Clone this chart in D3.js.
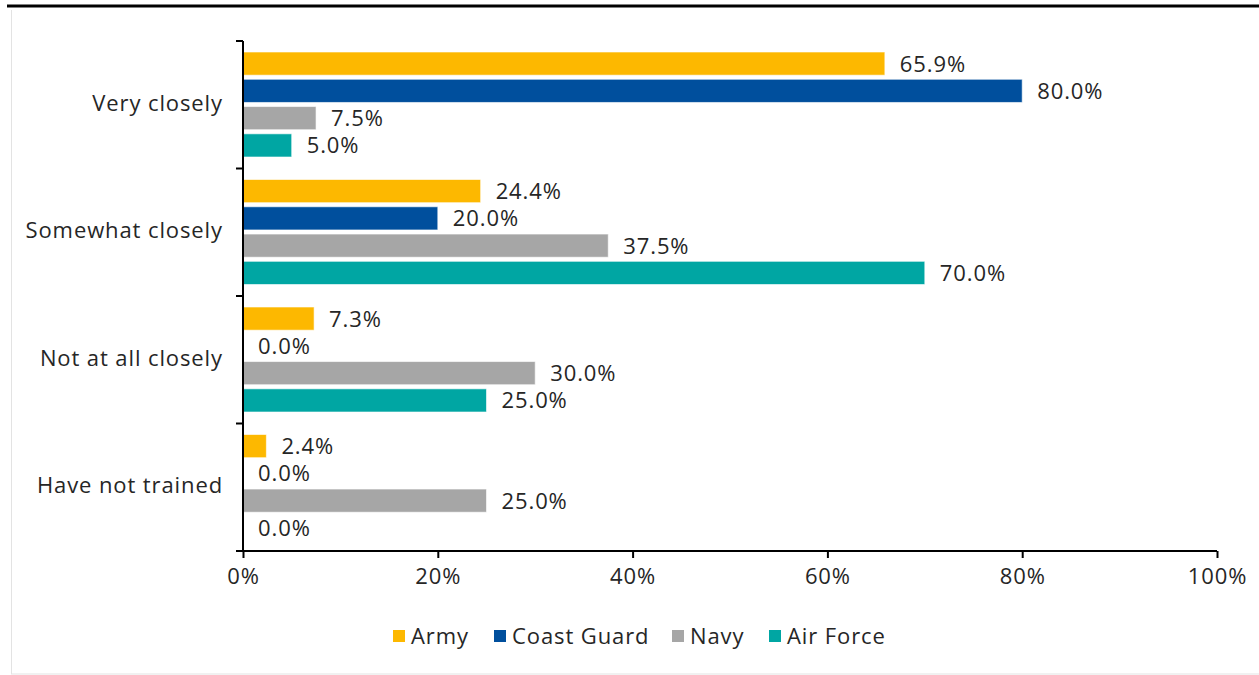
<!DOCTYPE html>
<html>
<head>
<meta charset="utf-8">
<script src="https://cdn.jsdelivr.net/npm/d3@7"></script>
<style>
  html, body { margin: 0; padding: 0; background: #fff; }
  svg { display: block; }
  text { font-family: "Open Sans", "Noto Sans", sans-serif; fill: #262626; letter-spacing: 0.9px; }
</style>
</head>
<body>
<svg id="chart" width="1259" height="675"></svg>
<script>
const categories = ["Very closely", "Somewhat closely", "Not at all closely", "Have not trained"];
const series = ["Army", "Coast Guard", "Navy", "Air Force"];
const army = [65.9, 24.4, 7.3, 2.4];
const coastGuard = [80.0, 20.0, 0.0, 0.0];
const navy = [7.5, 37.5, 30.0, 25.0];
const airForce = [5.0, 70.0, 25.0, 0.0];
const colors = ["#FDB800", "#004F9D", "#A6A6A6", "#00A6A3"];
const xTicks = [0, 20, 40, 60, 80, 100];

const values = [army, coastGuard, navy, airForce];
const FS = 22;

const svg = d3.select("#chart");

// frame
svg.append("line").attr("x1", 7).attr("x2", 1259).attr("y1", 6).attr("y2", 6)
  .attr("stroke", "#000").attr("stroke-width", 3);
svg.append("line").attr("x1", 11.5).attr("x2", 11.5).attr("y1", 10).attr("y2", 674)
  .attr("stroke", "#e3e3e3").attr("stroke-width", 1);
svg.append("line").attr("x1", 11).attr("x2", 1259).attr("y1", 674).attr("y2", 674)
  .attr("stroke", "#e3e3e3").attr("stroke-width", 1);

const x = d3.scaleLinear().domain([0, 100]).range([243, 1217]);
const y = d3.scaleBand().domain(categories).range([41, 551]);
const y1 = d3.scaleBand().domain(series).range([11, 116]).paddingInner(0.15);

const groups = svg.append("g").selectAll("g")
  .data(categories)
  .join("g")
  .attr("transform", d => `translate(0,${y(d)})`);

groups.each(function(cat, ci) {
  const g = d3.select(this);
  const data = series.map((s, si) => ({ s, si, v: values[si][ci] }));
  g.selectAll("rect").data(data).join("rect")
    .attr("x", x(0))
    .attr("y", d => y1(d.s))
    .attr("width", d => x(d.v) - x(0))
    .attr("height", y1.bandwidth())
    .attr("fill", d => colors[d.si])
    .attr("stroke", d => d.v > 0 ? "#fff" : "none")
    .attr("stroke-opacity", 0.6)
    .attr("stroke-width", 1);
  g.selectAll("text.val").data(data).join("text")
    .attr("class", "val")
    .attr("x", d => x(d.v) + 15)
    .attr("y", d => y1(d.s) + y1.bandwidth() / 2)
    .attr("dy", "0.36em")
    .attr("font-size", FS)
    .text(d => d.v.toFixed(1) + "%");
});

// y axis
svg.append("line").attr("x1", 243).attr("x2", 243).attr("y1", 41).attr("y2", 552)
  .attr("stroke", "#000").attr("stroke-width", 2);
svg.append("g").selectAll("line").data(categories.map(c => y(c)).concat([y.range()[1]]))
  .join("line")
  .attr("x1", 236).attr("x2", 243)
  .attr("y1", d => d).attr("y2", d => d)
  .attr("stroke", "#000").attr("stroke-width", 2);

svg.append("g").selectAll("text").data(categories).join("text")
  .attr("x", 223)
  .attr("y", d => y(d) + y.bandwidth() / 2 - 2)
  .attr("dy", "0.36em")
  .attr("text-anchor", "end")
  .attr("font-size", FS)
  .text(d => d);

// x axis
const xAxis = d3.axisBottom(x).tickValues(xTicks).tickFormat(d => d + "%").tickSize(7).tickPadding(10);
const xg = svg.append("g").attr("transform", "translate(0,551)").call(xAxis);
xg.select(".domain").attr("stroke", "#000").attr("stroke-width", 2)
  .attr("d", `M236,0H${x(100)}`);
xg.selectAll(".tick line").attr("stroke", "#000").attr("stroke-width", 2);
xg.selectAll(".tick text").attr("font-size", FS).attr("fill", "#262626")
  .attr("font-family", '"Open Sans", "Noto Sans", sans-serif');

// legend
const legendX = [393, 494, 672, 769];
const lg = svg.append("g").selectAll("g").data(series).join("g")
  .attr("transform", (d, i) => `translate(${legendX[i]},636)`);
lg.append("rect").attr("x", 0).attr("y", -6).attr("width", 12).attr("height", 12)
  .attr("fill", (d, i) => colors[i]);
lg.append("text").attr("x", 18).attr("dy", "0.36em").attr("font-size", FS).text(d => d);
</script>
</body>
</html>
